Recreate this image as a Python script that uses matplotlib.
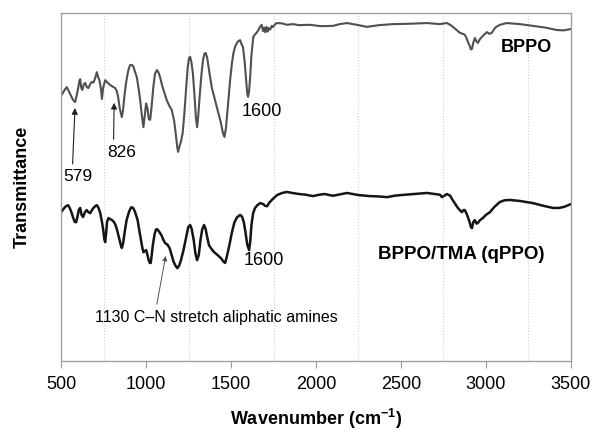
import numpy as np
import matplotlib
matplotlib.use('Agg')
import matplotlib.pyplot as plt

plt.rcParams['font.family'] = ['Liberation Sans', 'DejaVu Sans']
plt.rcParams['mathtext.fontset'] = 'custom'
plt.rcParams['mathtext.rm'] = 'Liberation Sans'
plt.rcParams['mathtext.bf'] = 'Liberation Sans:bold'

# BPPO spectrum (wavenumber, transmittance a.u.)
bppo_wn = [500, 510, 520, 533, 545, 555, 570, 582, 592, 600, 607, 612, 618, 625, 633, 641,
           650, 660, 670, 680, 690, 700, 710, 718, 725, 733, 740, 747, 759, 775, 788, 805,
           818, 828, 835, 845, 857, 864, 872, 882, 895, 905, 916, 925, 935, 945, 955, 965,
           975, 984, 992, 1000, 1008, 1016, 1024, 1032, 1042, 1052, 1063, 1072, 1082, 1095,
           1108, 1121, 1135, 1151, 1165, 1175, 1183, 1188, 1195, 1205, 1215, 1225, 1235,
           1245, 1252, 1259, 1266, 1275, 1285, 1293, 1300, 1307, 1315, 1325, 1335, 1343,
           1351, 1360, 1372, 1386, 1400, 1415, 1425, 1440, 1452, 1461, 1470, 1478, 1486,
           1495, 1505, 1514, 1525, 1540, 1553, 1562, 1570, 1580, 1588, 1595, 1600, 1606,
           1613, 1620, 1631, 1640, 1650, 1660, 1670, 1680, 1688, 1695, 1700, 1708, 1714,
           1720, 1730, 1740, 1747, 1760, 1770, 1800, 1830, 1865, 1900, 1965, 2030, 2100,
           2140, 2182, 2240, 2300, 2370, 2453, 2550, 2653, 2700, 2729, 2770, 2790, 2806,
           2830, 2847, 2865, 2876, 2886, 2894, 2905, 2912, 2918, 2926, 2935, 2945, 2953,
           2965, 2976, 2990, 3006, 3020, 3035, 3055, 3082, 3123, 3200, 3276, 3350, 3418,
           3460, 3500]
bppo_t = [76.4, 77.0, 77.9, 78.7, 77.5, 76.5, 75.0, 74.4, 76.5, 78.4, 80.5, 81.0, 78.5,
          77.9, 79.5, 79.9, 78.8, 78.4, 79.5, 80.2, 80.0, 81.3, 83.0, 81.5, 80.7, 78.5,
          75.3, 78.5, 80.7, 79.9, 79.3, 78.8, 78.4, 77.5, 75.9, 72.5, 70.1, 72.0, 76.0,
          80.0, 83.5, 85.0, 85.1, 84.6, 83.0, 81.6, 78.5, 75.0, 70.5, 67.2, 70.5, 74.0,
          72.5, 69.5, 69.3, 73.0, 78.5, 82.5, 83.6, 83.0, 81.6, 79.0, 77.0, 75.0, 73.5,
          72.1, 69.0, 65.0, 61.5, 60.1, 61.5, 63.0, 65.5, 71.0, 78.0, 84.5, 87.0, 87.4,
          86.0, 82.8, 76.0, 70.0, 67.2, 70.5, 76.0, 82.0, 86.5, 88.3, 88.5, 87.0, 83.0,
          78.7, 76.0, 73.0, 71.3, 68.5, 65.5, 64.4, 67.0, 71.5, 76.0, 81.0, 85.5, 88.5,
          90.5, 91.8, 92.2, 91.0, 90.2, 86.0, 81.0, 77.0, 75.9, 77.5, 82.0, 88.0, 93.1,
          93.8, 94.3, 95.0, 96.0, 96.6, 94.8, 95.8, 94.5, 96.0, 94.6, 95.7, 95.2, 96.3,
          96.0, 96.8, 97.1, 97.0, 96.6, 96.8, 96.5, 96.6, 96.2, 96.3, 96.8, 97.1, 96.6,
          96.0, 96.5, 96.8, 96.9, 97.1, 96.9, 96.8, 97.1, 96.6, 96.0, 95.0, 94.3, 94.0,
          93.7, 92.8, 91.7, 90.5, 89.5, 89.7, 91.5, 92.8, 91.8, 91.4, 92.5, 93.1, 93.8,
          94.5, 94.0, 94.3, 95.8, 96.6, 97.1, 96.8, 96.3, 95.8, 95.1, 95.0, 95.4]

# BPPO/TMA (qPPO) spectrum
qppo_wn = [500, 515, 528, 541, 550, 560, 572, 580, 588, 596, 604, 612, 620, 629, 640, 650,
           660, 671, 680, 690, 700, 710, 720, 730, 740, 748, 754, 759, 764, 770, 778, 788,
           800, 810, 820, 830, 840, 850, 857, 865, 875, 885, 900, 912, 924, 935, 950, 960,
           970, 978, 984, 992, 1000, 1008, 1015, 1022, 1027, 1033, 1040, 1050, 1058, 1065,
           1075, 1090, 1100, 1112, 1125, 1138, 1150, 1162, 1172, 1184, 1195, 1205, 1220,
           1235, 1248, 1259, 1268, 1280, 1290, 1300, 1310, 1320, 1330, 1341, 1350, 1360,
           1370, 1385, 1400, 1420, 1440, 1455, 1465, 1475, 1490, 1505, 1520, 1535, 1553,
           1565, 1575, 1585, 1595, 1606, 1613, 1620, 1630, 1641, 1655, 1671, 1690, 1700,
           1712, 1725, 1740, 1755, 1771, 1800, 1829, 1860, 1900, 1940, 1982, 2020, 2050,
           2100, 2140, 2182, 2250, 2318, 2370, 2418, 2460, 2500, 2580, 2653, 2700, 2730,
           2741, 2755, 2771, 2790, 2800, 2815, 2835, 2850, 2859, 2868, 2876, 2885, 2894,
           2905, 2912, 2918, 2926, 2935, 2945, 2953, 2965, 2982, 3000, 3024, 3050, 3082,
           3110, 3141, 3200, 3276, 3340, 3394, 3430, 3460, 3500]
qppo_t = [42.8, 43.8, 44.5, 44.8, 44.0, 42.8, 41.0, 40.0, 39.9, 41.5, 43.5, 44.0, 42.0,
          41.4, 42.8, 43.4, 42.8, 42.5, 43.3, 44.0, 44.5, 44.8, 44.0, 42.5, 40.0, 37.5,
          35.0, 34.2, 36.5, 40.0, 41.1, 40.8, 40.5, 40.0, 39.1, 37.5, 35.5, 33.5, 32.5,
          34.0, 37.5, 40.5, 43.0, 44.2, 44.0, 42.8, 40.5, 37.5, 34.8, 32.5, 31.3, 31.6,
          31.9, 30.5, 29.0, 28.2, 28.2, 30.5, 33.5, 36.5, 37.8, 37.9, 37.3, 36.2, 35.0,
          33.9, 33.5, 32.5, 30.5, 28.5, 27.5, 26.7, 27.5, 29.0, 31.9, 35.5, 38.5, 39.1,
          38.0, 34.8, 31.0, 29.0, 30.5, 34.8, 37.8, 39.1, 38.0, 35.5, 33.3, 32.2, 31.3,
          30.5, 29.6, 28.6, 28.2, 30.0, 33.3, 37.0, 39.9, 41.3, 42.0, 41.5, 39.9, 37.0,
          33.5, 31.9, 34.5, 39.1, 42.5, 44.0, 44.8, 45.4, 45.1, 44.6, 44.5, 45.5, 46.3,
          47.0, 47.7, 48.3, 48.6, 48.3, 48.0, 47.8, 47.4, 47.8, 48.0, 47.5, 47.9, 48.3,
          47.7, 47.4, 47.3, 47.1, 47.5, 47.7, 48.0, 48.3, 48.0, 47.8, 47.1, 47.5, 48.0,
          47.5, 46.6, 45.5, 44.0, 43.2, 42.8, 43.4, 43.4, 42.5, 41.4, 39.8, 38.5, 38.2,
          40.0, 40.5, 39.5, 39.7, 40.5, 41.1, 42.0, 42.8, 44.3, 45.7, 46.2, 46.3, 46.0,
          45.4, 44.6, 44.0, 44.0, 44.3, 45.1]

fig = plt.figure(figsize=(5.94, 4.32), dpi=100)
ax = fig.add_axes([0.103, 0.164, 0.858, 0.806])

ax.plot(bppo_wn, bppo_t, color='#505050', lw=1.5)
ax.plot(qppo_wn, qppo_t, color='#151515', lw=1.8)

ax.set_xlim(500, 3500)
ax.set_ylim(0, 100)
ax.set_xticks(np.arange(500, 3501, 500))
ax.set_xticks(np.arange(750, 3500, 500), minor=True)
ax.set_yticks([])
ax.grid(True, which='minor', axis='x', color='#d0d0d0', ls=':', lw=0.8)
ax.tick_params(axis='x', which='major', direction='out', length=5, color='#999999',
               labelsize=13, pad=6)
ax.tick_params(axis='x', which='minor', length=0)
for sp in ax.spines.values():
    sp.set_color('#a0a0a0')
    sp.set_linewidth(1.0)

ax.set_xlabel(r'Wavenumber (cm$^{\mathbf{-1}}$)', fontsize=13, fontweight='bold', labelpad=10)
ax.set_ylabel('Transmittance', fontsize=13, fontweight='bold', labelpad=22)

arrow = dict(arrowstyle='-|>', color='#222222', lw=0.8, mutation_scale=9)
ax.annotate('579', xy=(582, 73.5), xytext=(600, 52.9), ha='center', va='center',
            fontsize=12.5, arrowprops=dict(arrow, relpos=(0.3, 1.0)))
ax.annotate('826', xy=(812, 75), xytext=(859, 60), ha='center', va='center',
            fontsize=12.5, arrowprops=dict(arrow, relpos=(0.2, 1.0)))
ax.text(1565, 71.6, '1600', ha='left', va='center', fontsize=13)
ax.text(1571, 29, '1600', ha='left', va='center', fontsize=13)
ax.annotate('1130 C\u2013N stretch aliphatic amines', xy=(1118, 31), xytext=(700, 12.6),
            ha='left', va='center', fontsize=11.5,
            arrowprops=dict(arrowstyle='-|>', color='#555555', lw=0.7, mutation_scale=7,
                            relpos=(0.25, 1.0)))
ax.text(3241, 90.2, 'BPPO', ha='center', va='center', fontsize=13, fontweight='bold')
ax.text(2853, 30.5, 'BPPO/TMA (qPPO)', ha='center', va='center', fontsize=13.5,
        fontweight='bold')

fig.savefig('out.png', dpi=100)
